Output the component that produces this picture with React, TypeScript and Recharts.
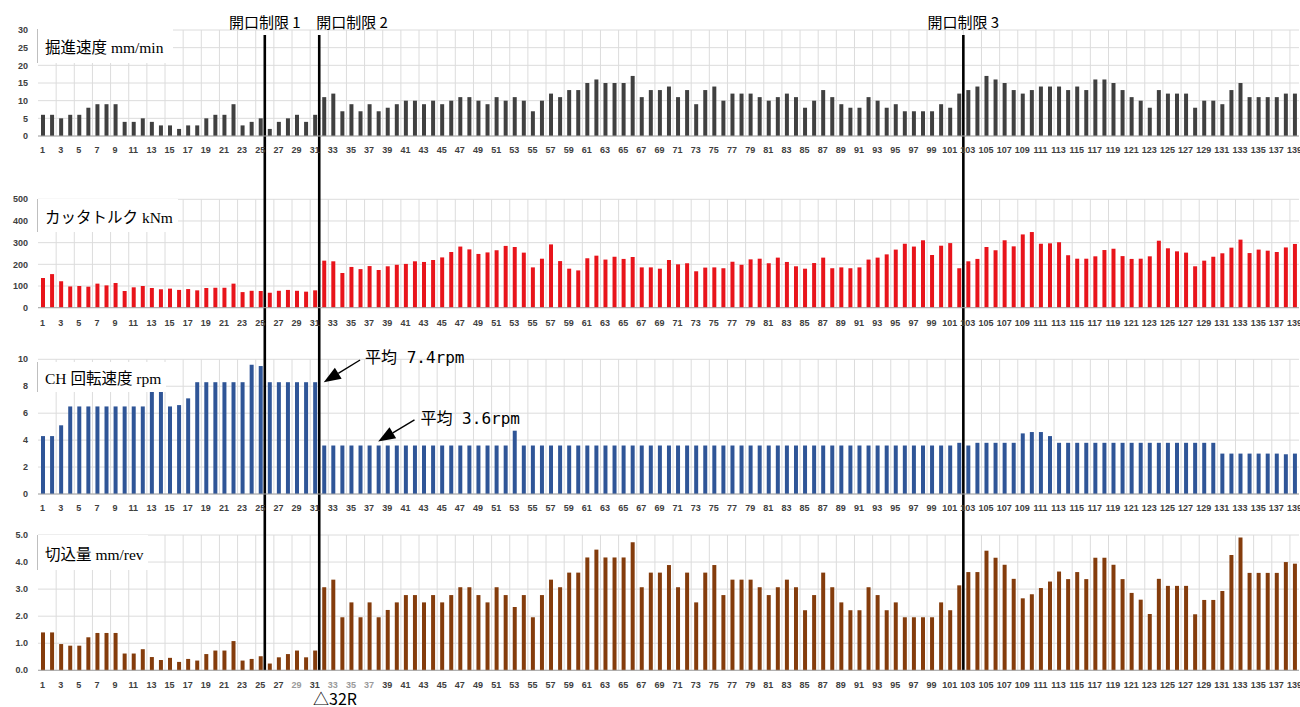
import React from 'react';
import { BarChart, Bar, XAxis, YAxis, CartesianGrid, ReferenceLine } from 'recharts';

// ring numbers 1..139
const rings = Array.from({ length: 139 }, (_, i) => i + 1);

// 掘進速度 mm/min
const advanceSpeed = [
  6, 6, 5, 6, 6, 8, 9, 9, 9, 4,
  4, 5, 4, 3, 3, 2, 3, 3, 5, 6,
  6, 9, 3, 4, 5, 2, 4, 5, 6, 4,
  6, 11, 12, 7, 9, 7, 9, 7, 8, 9,
  10, 10, 9, 10, 9, 10, 11, 11, 10, 9,
  11, 10, 11, 10, 7, 10, 12, 11, 13, 13,
  15, 16, 15, 15, 15, 17, 11, 13, 13, 14,
  11, 13, 9, 13, 14, 10, 12, 12, 12, 11,
  10, 11, 12, 11, 8, 10, 13, 11, 9, 8,
  8, 11, 10, 8, 9, 7, 7, 7, 7, 9,
  8, 12, 13, 14, 17, 16, 15, 13, 12, 13,
  14, 14, 14, 13, 14, 13, 16, 16, 15, 13,
  11, 10, 8, 13, 12, 12, 12, 8, 10, 10,
  9, 13, 15, 11, 11, 11, 11, 12, 12,
];

// カッタトルク kNm
const cutterTorque = [
  137, 155, 122, 98, 100, 97, 111, 103, 114, 77,
  94, 100, 91, 85, 88, 82, 86, 80, 91, 92,
  92, 111, 72, 78, 77, 69, 78, 82, 78, 74,
  80, 217, 214, 160, 188, 178, 192, 174, 191, 198,
  202, 214, 211, 220, 232, 257, 282, 269, 248, 255,
  265, 285, 280, 254, 186, 226, 292, 215, 180, 172,
  228, 240, 222, 235, 225, 234, 186, 186, 180, 220,
  200, 205, 168, 185, 186, 182, 212, 198, 223, 226,
  205, 231, 211, 191, 180, 206, 231, 182, 186, 182,
  186, 222, 231, 246, 268, 295, 282, 311, 243, 286,
  298, 182, 214, 225, 280, 265, 311, 283, 338, 349,
  295, 297, 302, 242, 226, 226, 237, 266, 272, 238,
  225, 226, 237, 309, 274, 260, 254, 191, 217, 235,
  251, 277, 314, 252, 268, 263, 257, 278, 294,
];

// CH 回転速度 rpm
const chSpeed = [
  4.3, 4.3, 5.1, 6.5, 6.5, 6.5, 6.5, 6.5, 6.5, 6.5,
  6.5, 6.5, 8.0, 8.0, 6.5, 6.6, 7.1, 8.3, 8.3, 8.3,
  8.3, 8.3, 8.3, 9.6, 9.5, 8.3, 8.3, 8.3, 8.3, 8.3,
  8.3, 3.6, 3.6, 3.6, 3.6, 3.6, 3.6, 3.6, 3.6, 3.6,
  3.6, 3.6, 3.6, 3.6, 3.6, 3.6, 3.6, 3.6, 3.6, 3.6,
  3.6, 3.6, 4.7, 3.6, 3.6, 3.6, 3.6, 3.6, 3.6, 3.6,
  3.6, 3.6, 3.6, 3.6, 3.6, 3.6, 3.6, 3.6, 3.6, 3.6,
  3.6, 3.6, 3.6, 3.6, 3.6, 3.6, 3.6, 3.6, 3.6, 3.6,
  3.6, 3.6, 3.6, 3.6, 3.6, 3.6, 3.6, 3.6, 3.6, 3.6,
  3.6, 3.6, 3.6, 3.6, 3.6, 3.6, 3.6, 3.6, 3.6, 3.6,
  3.6, 3.8, 3.6, 3.8, 3.8, 3.8, 3.8, 3.8, 4.5, 4.6,
  4.6, 4.3, 3.8, 3.8, 3.8, 3.8, 3.8, 3.8, 3.8, 3.8,
  3.8, 3.8, 3.8, 3.8, 3.8, 3.8, 3.8, 3.8, 3.8, 3.8,
  3.0, 3.0, 3.0, 3.0, 3.0, 3.0, 3.0, 2.95, 3.0,
];

// 切込量 mm/rev
const cutDepth = [
  1.40, 1.40, 0.97, 0.91, 0.91, 1.22, 1.38, 1.38, 1.38, 0.62,
  0.62, 0.78, 0.49, 0.38, 0.46, 0.31, 0.42, 0.36, 0.60, 0.73,
  0.73, 1.08, 0.36, 0.42, 0.52, 0.25, 0.48, 0.60, 0.73, 0.48,
  0.73, 3.07, 3.35, 1.96, 2.51, 1.96, 2.51, 1.96, 2.23, 2.51,
  2.78, 2.78, 2.51, 2.78, 2.51, 2.78, 3.07, 3.07, 2.78, 2.51,
  3.07, 2.78, 2.34, 2.78, 1.96, 2.78, 3.35, 3.07, 3.61, 3.61,
  4.17, 4.46, 4.17, 4.17, 4.17, 4.73, 3.07, 3.61, 3.61, 3.89,
  3.07, 3.61, 2.51, 3.61, 3.89, 2.78, 3.35, 3.35, 3.35, 3.07,
  2.78, 3.07, 3.35, 3.07, 2.22, 2.78, 3.61, 3.07, 2.51, 2.22,
  2.22, 3.07, 2.78, 2.22, 2.51, 1.96, 1.96, 1.96, 1.96, 2.51,
  2.22, 3.14, 3.63, 3.63, 4.42, 4.16, 3.90, 3.38, 2.66, 2.81,
  3.04, 3.28, 3.65, 3.37, 3.63, 3.37, 4.16, 4.16, 3.90, 3.37,
  2.86, 2.61, 2.08, 3.38, 3.12, 3.12, 3.12, 2.07, 2.60, 2.60,
  2.93, 4.26, 4.91, 3.60, 3.60, 3.60, 3.60, 4.00, 3.94,
];

const speedTicks = [0, 5, 10, 15, 20, 25, 30];
const torqueTicks = [0, 100, 200, 300, 400, 500];
const rpmTicks = [0, 2, 4, 6, 8, 10];
const depthTicks = [0, 1, 2, 3, 4, 5];

// ring labels drawn lighter on the bottom panel
const fadedRings = [29, 33, 35, 37];

// first ring after each opening limit
const limitRings = [26, 32, 103];
const limitLabels = ['開口制限 1', '開口制限 2', '開口制限 3'];
const limitAnchors = ['middle', 'start', 'middle'];
const limitDx = [0, -3, 0];

const data = rings.map((no, i) => ({
  no,
  speed: advanceSpeed[i],
  torque: cutterTorque[i],
  rpm: chSpeed[i],
  depth: cutDepth[i],
}));

const tickFont = '"Liberation Sans", Arial, sans-serif';
const tickStyle = { fontSize: 9, fontWeight: 700, fill: '#404040', fontFamily: tickFont };

const FadedTick = (props: any) => {
  const { x, y, payload } = props;
  const faded = fadedRings.includes(payload.value);
  return (
    <text
      x={x}
      y={y}
      dy="0.71em"
      textAnchor="middle"
      fontSize={9}
      fontWeight={700}
      fontFamily={tickFont}
      fill={faded ? '#9a9a9a' : '#404040'}
    >
      {payload.value}
    </text>
  );
};

// vertical grid at every second category boundary
const gridX = ({ offset }: any) => {
  if (!offset) return [];
  const bw = offset.width / rings.length;
  const xs: number[] = [];
  for (let k = 2; k < rings.length; k += 2) xs.push(offset.left + k * bw);
  return xs;
};

const limitShape = (extTop: number, extBottom: number) => (p: any) => {
  const top = Math.min(p.y1, p.y2) - extTop;
  const bottom = Math.max(p.y1, p.y2) + extBottom;
  return <line x1={p.x1} x2={p.x2} y1={top} y2={bottom} stroke="#000" strokeWidth={2.6} />;
};

// arrow from tip (segment[0]) to tail (segment[1]) with text at the tail
const arrowShape = (text: string, dx: number, dy: number) => (p: any) => {
  const { x1, y1, x2, y2 } = p;
  const len = Math.hypot(x2 - x1, y2 - y1) || 1;
  const ux = (x2 - x1) / len;
  const uy = (y2 - y1) / len;
  const hl = 17;
  const hw = 6.5;
  const bx = x1 + ux * hl;
  const by = y1 + uy * hl;
  const pts = `${x1},${y1} ${bx - uy * hw},${by + ux * hw} ${bx + uy * hw},${by - ux * hw}`;
  return (
    <g>
      <line x1={bx} y1={by} x2={x2} y2={y2} stroke="#000" strokeWidth={1.4} />
      <polygon points={pts} fill="#000" />
      <text
        x={x2 + dx}
        y={y2 + dy}
        dominantBaseline="central"
        fontSize={16}
        fontFamily='"DejaVu Sans Mono", "Noto Sans CJK JP", monospace'
        fill="#000"
      >
        {text}
      </text>
    </g>
  );
};

const limitLines = (extTop: number, extBottom: number, withLabels: boolean) =>
  limitRings.map((r, i) => (
    <ReferenceLine
      key={`lim-${r}`}
      x={r}
      position="start"
      ifOverflow="visible"
      shape={limitShape(extTop, extBottom)}
      label={
        withLabels
          ? (props: any) => {
              const vb = props.viewBox || {};
              return (
                <text
                  x={(vb.x ?? 0) + limitDx[i]}
                  y={(vb.y ?? 30) - 9}
                  textAnchor={limitAnchors[i] as any}
                  dominantBaseline="central"
                  fontSize={15}
                  fontFamily='"Noto Sans CJK JP", sans-serif'
                  fill="#000"
                >
                  {limitLabels[i]}
                </text>
              );
            }
          : undefined
      }
    />
  ));

interface PanelCfg {
  top: number;
  height: number;
  mt: number;
  mb: number;
  dataKey: string;
  color: string;
  domain: [number, number];
  ticks: number[];
  fmt: (v: number) => string;
  tickMargin: number;
  ext: [number, number];
  labels?: boolean;
  fadedTicks?: boolean;
}

const renderPanel = (cfg: PanelCfg, extra: React.ReactNode[] = []) => (
  <div key={cfg.dataKey} style={{ position: 'absolute', left: 0, top: cfg.top }}>
    <BarChart
      width={1300}
      height={cfg.height}
      data={data}
      margin={{ top: cfg.mt, right: 1, bottom: cfg.mb - 20, left: 0 }}
      barSize={4}
    >
      <CartesianGrid stroke="#dcdcdc" verticalCoordinatesGenerator={gridX} />
      <XAxis
        dataKey="no"
        interval={1}
        height={20}
        tickLine={false}
        tickSize={0}
        tickMargin={cfg.tickMargin}
        axisLine={{ stroke: '#a6a6a6' }}
        tick={cfg.fadedTicks ? <FadedTick /> : tickStyle}
      />
      <YAxis
        width={38}
        domain={cfg.domain}
        ticks={cfg.ticks}
        interval={0}
        tickFormatter={cfg.fmt}
        axisLine={false}
        tickLine={false}
        tickSize={0}
        tickMargin={10}
        tick={tickStyle}
      />
      <Bar dataKey={cfg.dataKey} fill={cfg.color} isAnimationActive={false} />
      {limitLines(cfg.ext[0], cfg.ext[1], !!cfg.labels)}
      {extra}
    </BarChart>
  </div>
);

const TitleBox: React.FC<{ top: number; height: number; width: number; children: React.ReactNode }> = ({
  top,
  height,
  width,
  children,
}) => (
  <div
    style={{
      position: 'absolute',
      left: 37,
      top,
      width,
      height,
      background: '#fff',
      borderLeft: '1px solid #bfbfbf',
      display: 'flex',
      alignItems: 'center',
      paddingLeft: 7,
      boxSizing: 'border-box',
      fontSize: 15.5,
      fontFamily: '"Liberation Serif", "Noto Sans CJK JP", serif',
      color: '#000',
      whiteSpace: 'nowrap',
    }}
  >
    {children}
  </div>
);

export default function App() {
  const p1: PanelCfg = {
    top: 0, height: 180, mt: 30, mb: 44, dataKey: 'speed', color: '#404040',
    domain: [0, 30], ticks: speedTicks, fmt: (v) => String(v), tickMargin: 11, ext: [-5, 44], labels: true,
  };
  const p2: PanelCfg = {
    top: 180, height: 165, mt: 19.3, mb: 37.3, dataKey: 'torque', color: '#e8141b',
    domain: [0, 500], ticks: torqueTicks, fmt: (v) => String(v), tickMargin: 12, ext: [19.3, 37.3],
  };
  const p3: PanelCfg = {
    top: 345, height: 175, mt: 14.3, mb: 26, dataKey: 'rpm', color: '#2f5597',
    domain: [0, 10], ticks: rpmTicks, fmt: (v) => String(v), tickMargin: 11, ext: [14.3, 26],
  };
  const p4: PanelCfg = {
    top: 520, height: 187, mt: 15, mb: 36.7, dataKey: 'depth', color: '#843c0c',
    domain: [0, 5], ticks: depthTicks, fmt: (v) => v.toFixed(1), tickMargin: 11, ext: [15, 0], fadedTicks: true,
  };

  const arrows = [
    <ReferenceLine
      key="avg74"
      segment={[{ x: 32, y: 8.3 }, { x: 36, y: 9.95 }]}
      ifOverflow="visible"
      shape={arrowShape('平均 7.4rpm', 5, -2)}
    />,
    <ReferenceLine
      key="avg36"
      segment={[{ x: 38, y: 3.9 }, { x: 42, y: 5.5 }]}
      ifOverflow="visible"
      shape={arrowShape('平均 3.6rpm', 6, -1)}
    />,
  ];

  return (
    <div
      style={{
        position: 'absolute',
        left: 0,
        top: 0,
        width: 1300,
        height: 707,
        background: '#fff',
        overflow: 'hidden',
      }}
    >
      {renderPanel(p1)}
      {renderPanel(p2)}
      {renderPanel(p3, arrows)}
      {renderPanel(p4)}

      <TitleBox top={29} height={34} width={136}>掘進速度 mm/min</TitleBox>
      <TitleBox top={199} height={33} width={141}>カッタトルク kNm</TitleBox>
      <TitleBox top={362} height={30} width={129}>CH 回転速度 rpm</TitleBox>
      <TitleBox top={535} height={35} width={111}>切込量 mm/rev</TitleBox>

      <div
        style={{
          position: 'absolute',
          left: 313,
          top: 690,
          fontSize: 16,
          lineHeight: '17px',
          fontFamily: '"Noto Sans CJK JP", sans-serif',
          color: '#000',
        }}
      >
        △32R
      </div>
    </div>
  );
}
